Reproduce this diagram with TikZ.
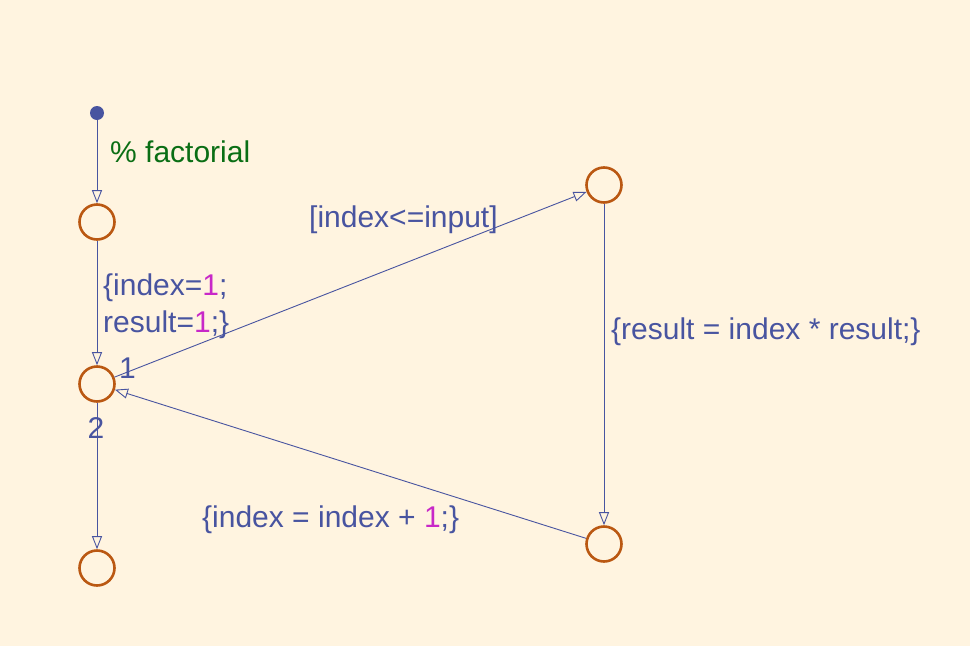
\documentclass[tikz,border=0pt]{standalone}
\usepackage{fontspec}
\setmainfont{Liberation Sans}
\usetikzlibrary{arrows.meta}
\definecolor{bgc}{RGB}{255,244,224}
\definecolor{trc}{RGB}{72,84,160}
\definecolor{junc}{RGB}{186,88,18}
\definecolor{numc}{RGB}{200,40,200}
\definecolor{cmtc}{RGB}{10,110,20}
\tikzset{
  junction/.style={circle, draw=junc, line width=2.6pt, minimum size=35pt, inner sep=0pt},
  trans/.style={draw=trc, line width=0.9pt, -{Triangle[open, length=13pt, width=10pt, line width=0.9pt]}},
  lbl/.style={text=trc, anchor=base west, inner sep=0pt, font=\fontsize{30pt}{37pt}\selectfont, align=left},
}
\begin{document}
\begin{tikzpicture}[x=1pt,y=-1pt]
\fill[bgc] (0,0) rectangle (970,646);
\useasboundingbox (0,0) rectangle (970,646);
% default transition dot
\node[circle, fill=trc, minimum size=14pt, inner sep=0pt] (dot) at (97,113) {};
% junctions
\node[junction] (A) at (97,222) {};
\node[junction] (B) at (97,384) {};
\node[junction] (C) at (604,185) {};
\node[junction] (D) at (604,544) {};
\node[junction] (E) at (97,568) {};
% transitions
\draw[trans] (dot) -- (A);
\draw[trans] (A) -- (B);
\draw[trans] (B) -- (C);
\draw[trans] (C) -- (D);
\draw[trans] (D) -- (B);
\draw[trans] (B) -- (E);
% labels
\node[lbl, text=cmtc] (lf) at (110,162) {\% factorial};
\node[lbl] (li1) at (103,295) {\{index=\textcolor{numc}{1};};
\node[lbl] (li2) at (103,332) {result=\textcolor{numc}{1};\}};
\node[lbl] (n1) at (119,378) {1};
\node[lbl, anchor=base] (n2) at (96,438) {2};
\node[lbl] (lg) at (309,227) {[index<=input]};
\node[lbl] (lr) at (611,339) {\{result = index * result;\}};
\node[lbl] (li) at (202,527) {\{index = index + \textcolor{numc}{1};\}};
\end{tikzpicture}
\end{document}
